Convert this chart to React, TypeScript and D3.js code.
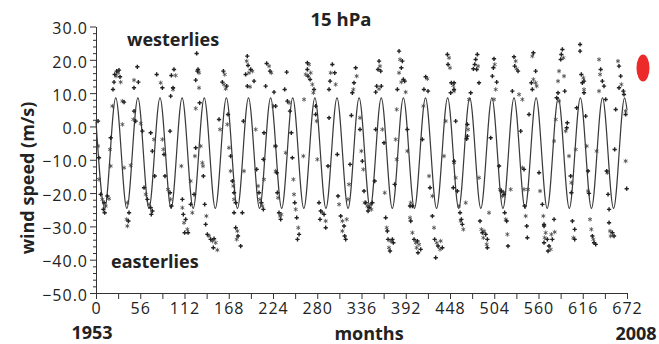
import * as d3 from 'd3';
import { useEffect, useRef } from 'react';

const fitNodes: [number, number][] = [
  [0, 1.5], [11, -24.6], [25, 8.6], [39, -24.6], [53, 8.6], [67, -24.6], [81, 8.6], [95, -24.6],
  [109, 8.6], [123, -24.6], [137, 8.6], [151, -24.6], [165, 8.6], [179, -24.6], [193, 8.6],
  [207, -24.6], [221, 8.6], [235, -24.6], [249, 8.6], [263, -24.6], [277, 8.6], [291, -24.6],
  [305, 8.6], [319, -24.6], [333, 8.6], [347, -24.6], [361, 8.6], [375, -24.6], [389, 8.6],
  [403, -24.6], [417, 8.6], [431, -24.6], [445, 8.6], [459, -24.6], [473, 8.6], [487, -24.6],
  [501, 8.6], [515, -24.6], [529, 8.6], [543, -24.6], [557, 8.6], [571, -24.6], [585, 8.6],
  [599, -24.6], [613, 8.6], [627, -24.6], [641, 8.6], [655, -24.6], [669, 8.6], [672, 5]
];

// observations plotted as bold plus marks
const obsPlus: [number, number][] = [
  [52.3, 17.9], [26.2, 16.6], [23.7, 15.6], [29.1, 16.9], [30.4, 14.9], [22.8, 13.3], [21.5, 11.1], [53.6, 13.3],
  [48.1, 11.6], [76.8, 15.6], [84.0, 11.6], [95.4, 15.3], [98.7, 17.1], [97.5, 11.6], [94.5, 9.1], [35.5, 7.3],
  [48.1, 4.6], [50.2, 1.6], [58.7, -1.4], [18.6, -3.4], [2.6, 1.6], [3.8, -9.4], [69.2, -1.9], [71.3, -7.4],
  [86.1, -8.4], [93.7, -1.4], [5.9, -20.4], [10.2, -22.9], [14.4, -20.9], [9.3, -24.9], [11.0, -25.9], [41.8, -25.9],
  [41, -28.4], [60.8, -18.4], [65, -21.9], [69.2, -24.4], [71.3, -25.4], [70, -26.4], [87.3, -14.9], [93.7, -19.9],
  [95.4, -23.9], [109.3, -21.9], [110.5, -26.4], [112.2, -31.9], [74.3, -14.9],
  [127.4, 21.9], [129.1, 17.1], [128.3, 16.6], [126.2, 13.9], [161.2, 16.6], [159.9, 13.3], [165.4, 12.1], [191.5, 21.1],
  [192.4, 18.3], [189.4, 15.6], [195.8, 17.1], [200, 13.6], [191.5, 12.1], [216, 18.9], [220.2, 16.6], [214.7, 12.1],
  [225.3, 10.3], [131.2, 7.1], [155.7, 2.1], [167.1, 3.6], [186.5, 1.6], [212.6, -1.9], [126.2, -6.4], [135.9, -14.9],
  [124.1, -20.4], [119.8, -23.4], [137.6, -23.4], [138.8, -29.4], [140.9, -32.4], [145.1, -33.9], [149.4, -33.7],
  [148.5, -36.4], [170.4, -8.9], [172.6, -16.4], [174.7, -19.9], [176.8, -22.9], [174.7, -25.9], [185.2, -25.9],
  [176.8, -30.4], [179.7, -32.9], [183.1, -35.9], [211.8, -9.9], [203.4, -12.9], [206.3, -19.9], [209.3, -22.9],
  [211.8, -24.9], [113.5, -27.9], [116.5, -31.9], [227.4, -5.9],
  [241.3, 16.3], [238.8, 11.1], [242.2, 7.6], [245.5, 4.6], [267.5, 19.1], [267.5, 17.1], [268.3, 15.1], [270.9, 14.1],
  [275.9, 11.1], [278, 6.1], [299.1, 18.6], [302.1, 16.1], [296.2, 13.6], [294.9, 11.1], [294.9, 2.6], [328.6, 17.6],
  [326.5, 13.1], [324.4, 10.1], [323.2, 3.3], [247.2, -1.9], [248.5, -9.4], [251.5, -22.9], [254, -27.4], [257, -32.4],
  [255, -33.9], [229.5, -19.9], [231.6, -25.9], [233.7, -27.9], [227.4, 6.1], [228.7, -13.9], [293.6, -11.9],
  [282.2, -22.9], [284.4, -25.4], [288.6, -26.4], [283.5, -27.9], [290.7, -30.4], [306.3, -20.9], [309.7, -26.9],
  [313.9, -29.9], [314.7, -32.9], [316, -33.9], [321.5, -11.4], [334.1, -0.9], [337.1, -10.4], [339.2, -19.4],
  [278, 3.6], [305.4, -8.4],
  [358.2, 19.6], [356.9, 17.1], [360.3, 16.6], [355.2, 12.1], [361.1, 12.1], [354, 10.3], [383.5, 22.6], [387.7, 19.6],
  [386.4, 17.6], [389, 14.1], [390.7, 13.6], [381.4, 11.1], [417.2, 14.9], [415, 11.1], [420.2, 10.6], [444.7, 21.6],
  [445.5, 18.6], [449.7, 13.1], [453.1, 11.1], [448.9, 10.1], [354, -0.9], [364.5, -4.9], [352.7, -16.4],
  [341.3, -22.9], [345.5, -24.4], [349.7, -22.9], [344.3, -25.4], [366.6, -27.4], [368.7, -31.4], [369.6, -33.9],
  [375.1, -33.9], [372.1, -37.4], [376.3, -34.9], [378, -17.4], [394, -0.9], [397.4, -23.9], [400.4, -23.9],
  [398.3, -28.4], [402.5, -33.9], [406.7, -34.4], [410.9, -36.9], [407.5, -37.9], [413, -3.9], [422.7, -18.4],
  [425.7, -26.9], [428.6, -33.9], [432.8, -35.9], [438.3, -36.4], [429.9, -39.4], [452.2, -18.4],
  [482.6, 21.6], [480.5, 20.1], [479.3, 18.6], [477.6, 17.3], [481.8, 17.1], [484.7, 13.1], [503.7, 20.3], [502.9, 17.6],
  [501.6, 15.1], [507.1, 13.3], [529, 20.9], [529.9, 18.1], [534.1, 16.6], [526.9, 10.6], [553.5, 22.1], [556.4, 16.6],
  [551, 13.1], [552.2, 11.1], [548, 3.6], [453.1, 13.1], [455.2, 1.6], [474.2, 10.1], [470, 0.6], [470, -2.9],
  [469.1, -3.7], [499.5, -3.4], [453.1, -10.4], [457.3, -19.4], [460.7, -25.9], [463.6, -29.4], [462.4, -27.9],
  [486, -28.4], [489, -31.9], [493.2, -32.4], [495.3, -33.9], [495.3, -36.4], [510.1, -11.9], [513, -19.4],
  [516.4, -20.4], [517.2, -25.9], [519.7, -28.4], [521.4, -35.9], [537.5, -1.4], [541.7, -12.9], [542.5, -23.9],
  [545.1, -29.9], [545.9, -33.4], [560.7, -13.9], [564.9, -23.4], [567, -29.9], [567, -34.9],
  [590.2, 23.1], [588.9, 21.6], [588.1, 20.1], [612.6, 24.6], [612.6, 22.6], [584.7, 10.1], [583, 8.6], [593.2, 10.6],
  [614.2, 15.6], [617.6, 13.6], [615.5, 13.1], [617.6, 10.1], [638.7, 17.1], [640.8, 13.6], [642.9, 12.1], [645, 8.1],
  [661.9, 18.1], [664, 15.1], [661.9, 11.6], [667.4, 10.6], [668.2, 9.6], [670.3, 3.6], [657.7, 5.1], [596.5, 1.1],
  [595.7, -0.4], [608.3, 5.6], [600.7, -14.9], [601.6, -19.9], [619.7, 3.1], [622.7, -13.4], [623.9, -20.1],
  [646.3, -13.4], [648, -20.4], [656.4, -6.9], [671.6, -18.7], [567, -29.4], [571.2, -33.9], [573.3, -35.9],
  [572.1, -37.4], [577.5, -33.9], [579.7, -27.9], [602.9, -28.4], [605.8, -30.9], [605.8, -33.9], [628.2, -32.9],
  [630.3, -34.9], [632.4, -35.4], [649.3, -28.9], [653.5, -31.9], [655.6, -32.9], [649.3, -24.9]
];

// observations plotted as asterisks
const obsStar: [number, number][] = [
  [27.9, 16.1], [25.3, 15.1], [31.2, 13.3], [48.1, 13.9], [81.9, 13.1], [100.8, 15.3], [97.5, 11.1], [33.4, 7.6],
  [20.7, 6.1], [33.4, 0.6], [47.3, 2.1], [56.6, 0.9], [17.7, -6.9], [18.6, -11.9], [2.6, -5.9], [3.8, -15.9],
  [35.5, -12.4], [43.9, -11.7], [73.4, -3.9], [84.0, -3.9], [85.2, -6.9], [108, -11.9], [8.0, -21.9], [12.3, -23.9],
  [16.5, -21.7], [39.7, -22.9], [38.8, -27.9], [39.7, -29.9], [62.9, -20.4], [67.1, -23.4], [91.1, -18.9],
  [94.5, -21.9], [109.3, -24.4], [111.4, -28.9],
  [130.4, 16.1], [130.4, 11.6], [162.9, 15.6], [162, 12.6], [164.1, 11.3], [190.7, 19.6], [193.6, 16.1], [197.9, 16.6],
  [194.9, 11.9], [219, 18.1], [221.9, 16.1], [224.5, 6.1], [126.2, 5.4], [157, -0.9], [166.2, 0.6], [202.1, -0.9],
  [125.2, -8.9], [132.5, -5.9], [134.6, -10.9], [135.4, -11.9], [119.8, -16.4], [121.9, -25.9], [139.7, -26.9],
  [143, -32.9], [147.3, -34.4], [151.5, -34.9], [153.6, -37.1], [168.3, -6.4], [170.4, -13.4], [173.8, -17.9],
  [174.7, -21.9], [178.9, -31.4], [178, -33.9], [187.3, -13.4], [212.6, -15.9], [205.1, -17.9], [207.6, -21.9],
  [210.5, -23.9], [115.6, -30.9], [227.4, -13.4],
  [244.3, 7.1], [263.3, 8.1], [269.6, 18.6], [265.4, 15.6], [271.7, 16.1], [273.8, 12.6], [275.1, 10.1], [297, 16.1],
  [303.3, 12.6], [329.9, 15.1], [325.7, 11.1], [334.1, 2.6], [240.1, -7.9], [249.8, -15.9], [250.6, -20.4],
  [252.7, -24.9], [256, -30.4], [262.4, -8.9], [230.4, -21.4], [232.9, -26.9], [234.6, -26.4], [226.6, -5.9],
  [280.1, -9.9], [286.5, -25.9], [290.7, -28.4], [307.6, -23.4], [311.8, -28.4], [311.8, -31.4], [317.3, -27.9],
  [320.2, -17.4], [318.9, -21.9], [335.8, -7.4], [338.3, -12.9], [340, -22.9], [279.3, 1.6],
  [359.4, 18.1], [358.2, 11.3], [384.8, 20.1], [383.5, 16.1], [386.4, 13.3], [391.9, 10.3], [380.5, 5.1], [419.3, 14.3],
  [414.3, 6.1], [446.8, 20.6], [448, 17.6], [452.2, 12.3], [442.6, 1.6], [440.4, -8.9], [362.4, -0.9], [365.4, -19.9],
  [343.4, -23.9], [347.6, -23.4], [348.5, -24.9], [367.9, -30.4], [373, -34.4], [370.8, -36.4], [379.3, -3.9],
  [380.5, -9.9], [394, -7.4], [398.3, -22.9], [397.4, -27.4], [400.4, -31.9], [404.6, -34.9], [408.8, -35.4],
  [405.8, -36.4], [421.5, -14.9], [425.7, -20.9], [427.8, -30.4], [431.2, -34.9], [435.4, -36.9], [436.2, -34.4],
  [453.1, -10.9],
  [483.5, 18.1], [504.6, 18.6], [505.8, 11.1], [503.7, 8.1], [531.1, 19.6], [532.4, 17.3], [535.4, 9.6], [539.6, 8.1],
  [552.2, 21.1], [553.5, 14.1], [556.4, 13.1], [557.7, 12.1], [453.1, 10.6], [472.1, 8.1], [470.8, -0.9],
  [455.2, -15.4], [459.4, -23.9], [461.5, -28.4], [464.9, -30.9], [467.9, -22.9], [484.7, -15.4], [487.7, -30.9],
  [491.1, -31.4], [490.2, -33.4], [494.4, -35.4], [497.4, -25.9], [511.3, -18.9], [515.5, -19.7], [514.3, -20.9],
  [518.5, -27.9], [520.6, -32.4], [524.8, -18.9], [541.7, -18.9], [539.6, -12.4], [543.8, -26.9], [546.7, -18.9],
  [562, -19.4], [566.1, -26.9], [567.8, -33.4],
  [591.5, 20.6], [586, 16.6], [592.3, 15.1], [584.7, 13.6], [586, 7.6], [616.8, 14.6], [617.6, 11.1], [636.6, 20.1],
  [637.9, 15.6], [636.6, 10.6], [660.6, 19.6], [664.9, 12.6], [670.3, 4.6], [581.8, 2.1], [594.4, -1.4],
  [579.7, -4.4], [607.1, -6.9], [598.6, -8.9], [601.6, -16.9], [621, -5.9], [622.7, -19.4], [633.6, -7.4],
  [647.1, -13.9], [670.3, -10.4], [569.1, -31.9], [575.4, -36.9], [576.3, -32.4], [580.5, -31.7], [604.1, -33.4],
  [625.2, -27.9], [629.4, -33.9], [626.9, -30.9], [650.5, -31.4], [651.4, -32.9]
];

const yTicks = [-50, -40, -30, -20, -10, 0, 10, 20, 30];
const yMinorTicks = [-48, -46, -44, -42, -38, -36, -34, -32, -28, -26, -24, -22, -18, -16, -14, -12, -8, -6, -4, -2,
  2, 4, 6, 8, 12, 14, 16, 18, 22, 24, 26, 28];
const xTicks = [0, 56, 112, 168, 224, 280, 336, 392, 448, 504, 560, 616, 672];
const xMinorTicks = [28, 84, 140, 196, 252, 308, 364, 420, 476, 532, 588, 644];

const FONT = '"Open Sans", "Noto Sans", sans-serif';

export default function App() {
  const ref = useRef<SVGSVGElement | null>(null);

  useEffect(() => {
    const svg = d3.select(ref.current);
    svg.selectAll('*').remove();
    const width = 659;
    const height = 344;

    const x = d3.scaleLinear().domain([0, 672]).range([96, 627]);
    const y = d3.scaleLinear().domain([-50, 30]).range([293, 26.5]);

    // minor y ticks
    svg.append('g')
      .attr('transform', 'translate(96,0)')
      .call(d3.axisLeft(y).tickValues(yMinorTicks).tickSize(3).tickSizeOuter(0).tickFormat(() => ''))
      .call((g) => g.select('.domain').remove())
      .call((g) => g.selectAll('line').attr('stroke', '#333'));

    const yAxis = svg.append('g')
      .attr('transform', 'translate(96,0)')
      .call(d3.axisLeft(y).tickValues(yTicks).tickSize(6).tickSizeOuter(0).tickPadding(2).tickFormat(d3.format('.1f')));
    yAxis.select('.domain').attr('stroke', '#333');
    yAxis.selectAll('line').attr('stroke', '#333');
    yAxis.selectAll('text').attr('font-family', FONT).attr('font-size', 16).attr('fill', '#222')
      .attr('letter-spacing', 1).attr('dy', '0.45em');

    svg.append('g')
      .attr('transform', 'translate(0,293)')
      .call(d3.axisBottom(x).tickValues(xMinorTicks).tickSize(6).tickSizeOuter(0).tickFormat(() => ''))
      .call((g) => g.select('.domain').remove())
      .call((g) => g.selectAll('line').attr('stroke', '#333'));

    const xAxis = svg.append('g')
      .attr('transform', 'translate(0,293)')
      .call(d3.axisBottom(x).tickValues(xTicks).tickSize(6).tickSizeOuter(0).tickPadding(4));
    xAxis.select('.domain').attr('stroke', '#333');
    xAxis.selectAll('line').attr('stroke', '#333');
    xAxis.selectAll('text').attr('font-family', FONT).attr('font-size', 16).attr('fill', '#222')
      .attr('letter-spacing', 1);

    // fitted curve
    const line = d3.line<[number, number]>()
      .x((d) => x(d[0]))
      .y((d) => y(d[1]))
      .curve(d3.curveMonotoneX);
    svg.append('path')
      .datum(fitNodes)
      .attr('d', line)
      .attr('fill', 'none')
      .attr('stroke', '#3a3a3a')
      .attr('stroke-width', 1.2);

    // observations
    const star = d3.symbol().type(d3.symbolAsterisk).size(14);
    svg.append('g')
      .selectAll('path')
      .data(obsStar)
      .enter()
      .append('path')
      .attr('transform', (d) => `translate(${x(d[0])},${y(d[1])})`)
      .attr('d', star())
      .attr('fill', 'none')
      .attr('stroke', '#444')
      .attr('stroke-width', 0.8);

    const plus = d3.symbol().type(d3.symbolCross).size(10);
    svg.append('g')
      .selectAll('path')
      .data(obsPlus)
      .enter()
      .append('path')
      .attr('transform', (d) => `translate(${x(d[0])},${y(d[1])})`)
      .attr('d', plus())
      .attr('fill', '#222');

    // red marker
    svg.append('ellipse')
      .attr('cx', 643).attr('cy', 68).attr('rx', 6.5).attr('ry', 13.5)
      .attr('fill', '#ec2a2a');

    const label = (txt: string, px: number, py: number, size: number, anchor = 'middle') =>
      svg.append('text')
        .attr('x', px).attr('y', py)
        .attr('text-anchor', anchor)
        .attr('font-family', FONT)
        .attr('font-weight', 700)
        .attr('font-size', size)
        .attr('fill', '#222')
        .text(txt);

    label('15 hPa', 341, 26, 18.5);
    label('westerlies', 127, 46, 18, 'start');
    label('easterlies', 111, 268, 18, 'start');
    label('1953', 92, 338.5, 18);
    label('months', 369, 340, 18);
    label('2008', 636, 340, 18);
    label('wind speed (m/s)', 0, 0, 18)
      .attr('transform', 'translate(34,178) rotate(-90)');

    svg.attr('width', width).attr('height', height);
  }, []);

  return (
    <svg
      ref={ref}
      width={659}
      height={344}
      style={{ position: 'absolute', left: 0, top: 0, background: '#fff' }}
    />
  );
}
